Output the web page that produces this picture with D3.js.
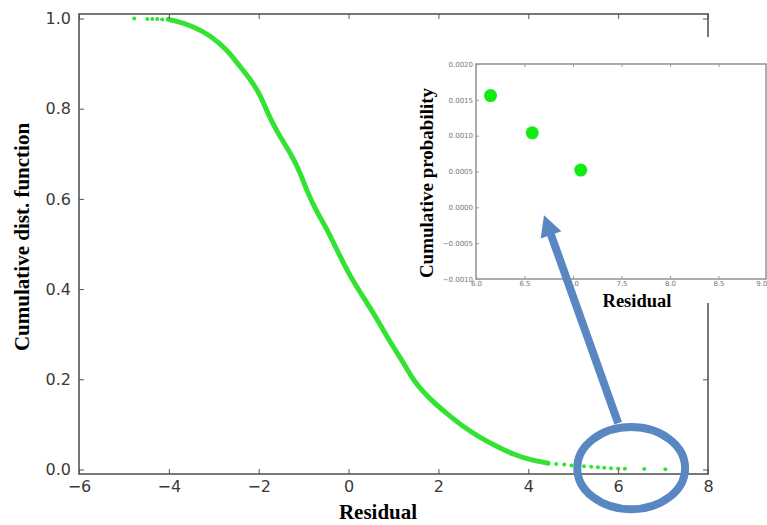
<!DOCTYPE html>
<html>
<head>
<meta charset="utf-8">
<script src="https://cdn.jsdelivr.net/npm/d3@7"></script>
<style>
  html, body { margin: 0; padding: 0; background: #fff; }
  svg { display: block; }
</style>
</head>
<body>
<svg id="chart" width="767" height="525"></svg>
<script>
// ---------- data ----------
// continuous part of the empirical curve
const lineResidual = [-4.01, -3.75, -3.46, -3.08, -2.70, -2.47, -2.19, -1.96, -1.81, -1.58, -1.29, -1.07, -0.91, -0.69, -0.47, -0.29, 0.04, 0.33, 0.65, 0.94, 1.23, 1.45, 1.83, 2.21, 2.56, 2.94, 3.32, 3.68, 4.06, 4.44];
const lineCdf      = [0.998, 0.992, 0.982, 0.963, 0.930, 0.900, 0.866, 0.830, 0.792, 0.746, 0.702, 0.657, 0.613, 0.568, 0.531, 0.493, 0.427, 0.382, 0.331, 0.280, 0.236, 0.195, 0.154, 0.122, 0.094, 0.070, 0.050, 0.033, 0.021, 0.014];
// sparse points at both ends
const dotResidual = [-4.77, -4.48, -4.37, -4.26, -4.15, 4.62, 4.80, 4.96, 5.10, 5.24, 5.40, 5.55, 5.69, 5.84, 6.00, 6.15, 6.58, 7.05];
const dotCdf      = [1.000, 0.999, 0.999, 0.999, 0.998, 0.012, 0.011, 0.009, 0.008, 0.007, 0.006, 0.005, 0.004, 0.003, 0.0021, 0.00156, 0.00104, 0.00052];
// zoomed inset: three largest residuals
const insetResidual = [6.15, 6.58, 7.08];
const insetCdf      = [0.00156, 0.00104, 0.00052];

const xTicks = [-6, -4, -2, 0, 2, 4, 6, 8];
const yTicks = [0.0, 0.2, 0.4, 0.6, 0.8, 1.0];
const insetXTicks = [6.0, 6.5, 7.0, 7.5, 8.0, 8.5, 9.0];
const insetYTicks = [-0.0010, -0.0005, 0.0000, 0.0005, 0.0010, 0.0015, 0.0020];

const xLabel = "Residual";
const yLabel = "Cumulative dist. function";
const insetXLabel = "Residual";
const insetYLabel = "Cumulative probability";

// annotation (in main-chart data units)
const ellipseCenter = [6.29, 0.003];
const ellipseRadii = [1.2, 0.091];
const arrowFrom = [6.0, 0.103];
const arrowTo = [4.35, 0.564];

// ---------- drawing ----------
const svg = d3.select("#chart");
const green = "#33e233";
const axisCol = "#555";
const blue = "#5887c2";

const x = d3.scaleLinear().domain([-6, 8]).range([79, 708]);
const y = d3.scaleLinear().domain([-0.01, 1.01]).range([474, 14]);

const main = svg.append("g");

// curve
const pts = lineResidual.map((r, i) => [r, lineCdf[i]]);
main.append("path")
  .attr("d", d3.line().x(d => x(d[0])).y(d => y(d[1])).curve(d3.curveBasis)(pts))
  .attr("fill", "none").attr("stroke", green).attr("stroke-width", 5)
  .attr("stroke-linecap", "round").attr("stroke-linejoin", "round");
main.selectAll("circle.tail").data(dotResidual.map((r, i) => [r, dotCdf[i]]))
  .join("circle").attr("class", "tail")
  .attr("cx", d => x(d[0])).attr("cy", d => y(d[1])).attr("r", 2)
  .attr("fill", green);

// frame
const [x0, x1] = x.range();
const [yb, yt] = y.range();
main.append("rect").attr("x", x0).attr("y", yt).attr("width", x1 - x0).attr("height", yb - yt)
  .attr("fill", "none").attr("stroke", axisCol).attr("stroke-width", 1.6);

// axes with inward ticks
const bx = main.append("g").attr("transform", `translate(0,${yb})`)
  .call(d3.axisBottom(x).tickValues(xTicks).tickSize(-5).tickPadding(7).tickFormat(d3.format("")));
const tx = main.append("g").attr("transform", `translate(0,${yt})`)
  .call(d3.axisTop(x).tickValues(xTicks).tickSize(-5).tickFormat(""));
const ly = main.append("g").attr("transform", `translate(${x0},0)`)
  .call(d3.axisLeft(y).tickValues(yTicks).tickSize(-5).tickPadding(8).tickFormat(d3.format(".1f")));
const ry = main.append("g").attr("transform", `translate(${x1},0)`)
  .call(d3.axisRight(y).tickValues(yTicks).tickSize(-5).tickFormat(""));
[bx, tx, ly, ry].forEach(g => {
  g.select(".domain").remove();
  g.selectAll("line").attr("stroke", axisCol);
  g.selectAll("text").attr("fill", "#3a3a3a").attr("font-family", "DejaVu Sans, sans-serif").attr("font-size", 16);
});
bx.selectAll("text").attr("dy", "0.71em");

main.append("text").attr("x", 378).attr("y", 519).attr("text-anchor", "middle")
  .attr("font-family", "Liberation Serif, Times New Roman, serif").attr("font-weight", "bold").attr("font-size", 21)
  .text(xLabel);
main.append("text").attr("transform", "translate(29,237) rotate(-90)").attr("text-anchor", "middle")
  .attr("font-family", "Liberation Serif, Times New Roman, serif").attr("font-weight", "bold").attr("font-size", 21)
  .text(yLabel);

// ---------- inset ----------
const ix = d3.scaleLinear().domain([6, 9]).range([476, 767]);
const iy = d3.scaleLinear().domain([-0.001, 0.002]).range([279, 64]);
const inset = svg.append("g");
inset.append("rect").attr("x", 412).attr("y", 37).attr("width", 355).attr("height", 266).attr("fill", "#fff");
inset.append("rect").attr("x", 476).attr("y", 64).attr("width", 290).attr("height", 215)
  .attr("fill", "none").attr("stroke", "#8a8a8a").attr("stroke-width", 1.4);

const ibx = inset.append("g").attr("transform", "translate(0,279)")
  .call(d3.axisBottom(ix).tickValues(insetXTicks).tickSize(-3).tickPadding(2).tickFormat(d3.format(".1f")));
const itx = inset.append("g").attr("transform", "translate(0,64)")
  .call(d3.axisTop(ix).tickValues(insetXTicks).tickSize(-3).tickFormat(""));
const ily = inset.append("g").attr("transform", "translate(476,0)")
  .call(d3.axisLeft(iy).tickValues(insetYTicks).tickSize(-3).tickPadding(3).tickFormat(d3.format(".4f")));
[ibx, itx, ily].forEach(g => {
  g.select(".domain").remove();
  g.selectAll("line").attr("stroke", "#999");
  g.selectAll("text").attr("fill", "#777").attr("font-family", "DejaVu Sans, sans-serif").attr("font-size", 7);
});
// keep the last inset x label inside the window
ibx.selectAll(".tick").filter(d => d === insetXTicks[insetXTicks.length - 1])
  .select("text").attr("text-anchor", "end");

inset.selectAll("circle.pt").data(insetResidual.map((r, i) => [r, insetCdf[i]]))
  .join("circle").attr("class", "pt")
  .attr("cx", d => ix(d[0])).attr("cy", d => iy(d[1])).attr("r", 6.5)
  .attr("fill", "#12ea12");

inset.append("text").attr("x", 637).attr("y", 307).attr("text-anchor", "middle")
  .attr("font-family", "Liberation Serif, Times New Roman, serif").attr("font-weight", "bold").attr("font-size", 18.5)
  .text(insetXLabel);
inset.append("text").attr("transform", "translate(433,183) rotate(-90)").attr("text-anchor", "middle")
  .attr("font-family", "Liberation Serif, Times New Roman, serif").attr("font-weight", "bold").attr("font-size", 19)
  .text(insetYLabel);

// ---------- annotation ----------
const ann = svg.append("g");
const cx = x(ellipseCenter[0]), cy = y(ellipseCenter[1]);
ann.append("ellipse").attr("cx", cx).attr("cy", cy)
  .attr("rx", x(ellipseCenter[0] + ellipseRadii[0]) - cx)
  .attr("ry", cy - y(ellipseCenter[1] + ellipseRadii[1]))
  .attr("fill", "none").attr("stroke", blue).attr("stroke-width", 8);

const ax0 = x(arrowFrom[0]), ay0 = y(arrowFrom[1]);
const ax1 = x(arrowTo[0]), ay1 = y(arrowTo[1]);
const len = Math.hypot(ax1 - ax0, ay1 - ay0);
const ux = (ax1 - ax0) / len, uy = (ay1 - ay0) / len;
const headLen = 21, headHalf = 11;
const bxp = ax1 - ux * headLen, byp = ay1 - uy * headLen;
ann.append("line").attr("x1", ax0).attr("y1", ay0).attr("x2", bxp + ux * 2).attr("y2", byp + uy * 2)
  .attr("stroke", blue).attr("stroke-width", 8);
ann.append("path")
  .attr("d", `M${ax1},${ay1}L${bxp - uy * headHalf},${byp + ux * headHalf}L${bxp + uy * headHalf},${byp - ux * headHalf}Z`)
  .attr("fill", blue);
</script>
</body>
</html>
